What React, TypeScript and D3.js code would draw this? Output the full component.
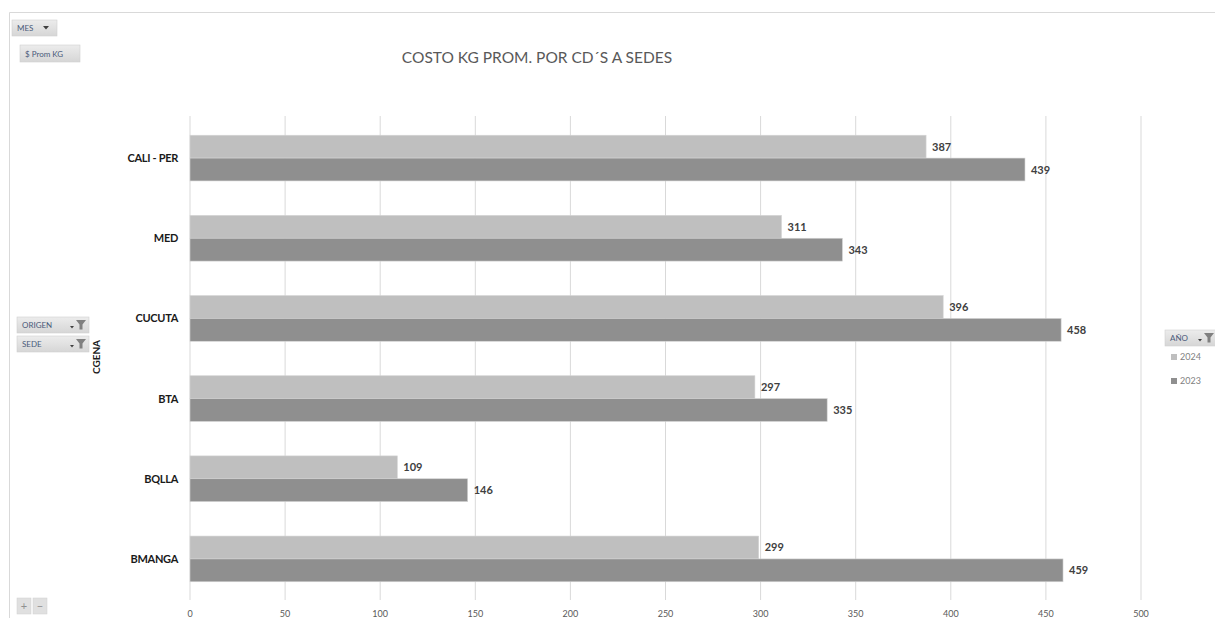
import React from "react";
import * as d3 from "d3";

const categories = ["CALI - PER", "MED", "CUCUTA", "BTA", "BQLLA", "BMANGA"];
const values2024 = [387, 311, 396, 297, 109, 299];
const values2023 = [439, 343, 458, 335, 146, 459];
const seriesNames = ["2024", "2023"];
const xTicks = [0, 50, 100, 150, 200, 250, 300, 350, 400, 450, 500];

const W = 1215;
const H = 618;
const FONT = "Lato, 'Open Sans', 'Noto Sans', sans-serif";
const colors = ["#bfbfbf", "#8f8f8f"];

function Button({ x, y, w, h, label, arrow, filter }: any) {
  return (
    <g>
      <defs>
        <linearGradient id="btnGrad" x1="0" y1="0" x2="0" y2="1">
          <stop offset="0" stopColor="#ececec" />
          <stop offset="1" stopColor="#d6d6d6" />
        </linearGradient>
      </defs>
      <rect x={x} y={y} width={w} height={h} fill="url(#btnGrad)" stroke="#d0d0d0" strokeWidth={0.6} />
      <text x={x + 5} y={y + h / 2 + 3} fontSize={8} fill="#4a5a7a" fontFamily={FONT}>
        {label}
      </text>
      {arrow && (
        <path d={`M${x + w - 14},${y + h / 2 - 2} l6,0 l-3,3.5 z`} fill="#404040" />
      )}
      {filter && (
        <g>
          <path d={`M${x + w - 19},${y + h / 2 + 1} l4,0 l-2,2.5 z`} fill="#404040" />
          <path
            d={`M${x + w - 13},${y + 3} l10,0 l-3.5,4.5 l0,5 l-3,0 l0,-5 z`}
            fill="#808080"
          />
        </g>
      )}
    </g>
  );
}

export default function App() {
  const x = d3.scaleLinear().domain([0, 500]).range([190, 1141]);
  const y = d3.scaleBand().domain(categories).range([118, 599]).paddingInner(0.43).paddingOuter(0.215);
  const sub = d3.scaleBand().domain(seriesNames).range([0, y.bandwidth()]);
  const series = [values2024, values2023];

  return (
    <svg
      width={W}
      height={H}
      style={{ position: "absolute", left: 0, top: 0, background: "#fff" }}
      fontFamily={FONT}
    >
      <rect x={0} y={0} width={W} height={H} fill="#fff" />
      {/* frame */}
      <line x1={9.5} y1={12.5} x2={W} y2={12.5} stroke="#d9d9d9" strokeWidth={1} />
      <line x1={9.5} y1={12.5} x2={9.5} y2={H} stroke="#d9d9d9" strokeWidth={1} />

      {/* title */}
      <text x={537} y={63} textAnchor="middle" fontSize={15.5} fill="#595959" fontFamily={FONT}>
        COSTO KG PROM. POR CD´S A SEDES
      </text>

      {/* gridlines */}
      {xTicks.map((t) => (
        <line key={t} x1={x(t)} x2={x(t)} y1={116} y2={600} stroke="#d9d9d9" strokeWidth={1} />
      ))}

      {/* bars */}
      {categories.map((c, i) => (
        <g key={c}>
          {seriesNames.map((s, j) => {
            const v = series[j][i];
            const by = (y(c) as number) + (sub(s) as number);
            return (
              <g key={s}>
                <rect
                  x={x(0)}
                  y={by}
                  width={x(v) - x(0)}
                  height={sub.bandwidth()}
                  fill={colors[j]}
                  stroke="#d4d4d4"
                  strokeWidth={0.6}
                />
                <text
                  x={x(v) + 6}
                  y={by + sub.bandwidth() / 2 + 4}
                  fontSize={11}
                  fontWeight="bold"
                  fill="#404040"
                >
                  {v}
                </text>
              </g>
            );
          })}
          <text
            x={178}
            y={(y(c) as number) + y.bandwidth() / 2 + 4}
            textAnchor="end"
            fontSize={11}
            fontWeight="bold"
            fill="#1a1a1a"
            letterSpacing={-0.3}
          >
            {c}
          </text>
        </g>
      ))}

      {/* x tick labels */}
      {xTicks.map((t) => (
        <text key={t} x={x(t)} y={617} textAnchor="middle" fontSize={9} fill="#595959">
          {t}
        </text>
      ))}

      {/* axis title */}
      <text
        transform="translate(100,357) rotate(-90)"
        textAnchor="middle"
        fontSize={10}
        fontWeight="bold"
        fill="#1a1a1a"
      >
        CGENA
      </text>

      {/* buttons */}
      <Button x={12} y={20} w={45} h={16} label="MES" arrow />
      <Button x={20} y={45} w={60} h={17} label="$ Prom KG" />
      <Button x={17} y={317} w={72} h={16} label="ORIGEN" filter />
      <Button x={17} y={336} w={72} h={16} label="SEDE" filter />
      <Button x={1165} y={330} w={52} h={16} label="AÑO" filter />

      {/* legend */}
      {seriesNames.map((s, j) => (
        <g key={s}>
          <rect x={1171} y={354 + j * 24} width={6} height={6} fill={colors[j]} />
          <text x={1180} y={360 + j * 24} fontSize={9} fill="#7f7f7f">
            {s}
          </text>
        </g>
      ))}

      {/* +/- buttons */}
      <rect x={17} y={598} width={14} height={16} fill="#e0e0e0" stroke="#d0d0d0" strokeWidth={0.5} />
      <rect x={33} y={598} width={14} height={16} fill="#e0e0e0" stroke="#d0d0d0" strokeWidth={0.5} />
      <text x={24} y={610} textAnchor="middle" fontSize={11} fill="#909090">+</text>
      <text x={40} y={610} textAnchor="middle" fontSize={11} fill="#909090">−</text>
    </svg>
  );
}
